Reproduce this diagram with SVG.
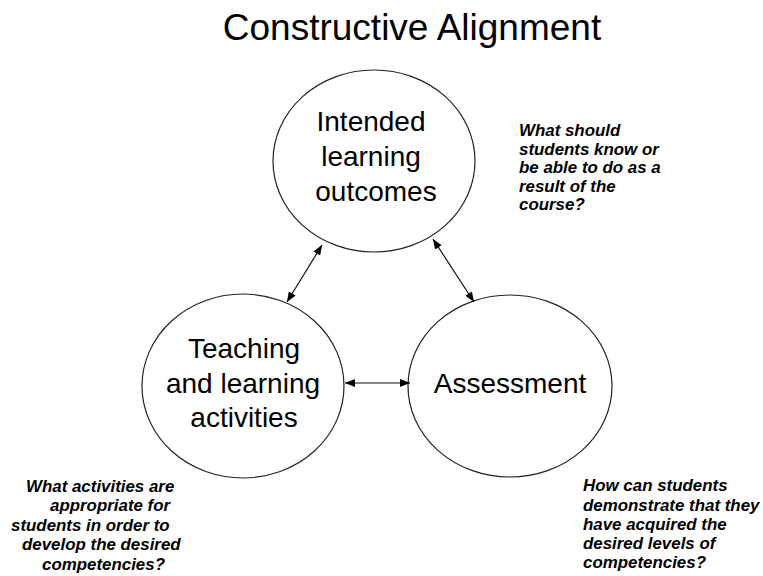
<svg xmlns="http://www.w3.org/2000/svg" width="763" height="576" viewBox="0 0 763 576">
<style>
.title{font-family:"Liberation Sans",Arial,sans-serif;font-size:37px;fill:#000;text-anchor:middle}
.node{fill:#fff;stroke:#222;stroke-width:1.2}
.lbl{font-family:"Liberation Sans",Arial,sans-serif;font-size:28px;fill:#000;text-anchor:middle}
.q{font-family:"Liberation Sans",Arial,sans-serif;font-size:16.9px;font-weight:bold;font-style:italic;fill:#000}
.conn{stroke:#111;stroke-width:1.2;fill:none}
</style>
<defs>
<marker id="ah" viewBox="0 0 10 8" refX="10" refY="4" markerWidth="10" markerHeight="8" markerUnits="userSpaceOnUse" orient="auto-start-reverse">
<path d="M0,0 L10,4 L0,8 z" fill="#000"/>
</marker>
</defs>
<rect width="763" height="576" fill="#fff"/>
<text class="title" x="412" y="40">Constructive Alignment</text>
<g id="ilo">
<ellipse class="node" cx="374" cy="161" rx="101" ry="91"/>
<text class="lbl" x="371" y="131">Intended</text>
<text class="lbl" x="371" y="166">learning</text>
<text class="lbl" x="376" y="201">outcomes</text>
</g>
<g id="tla">
<ellipse class="node" cx="243" cy="386" rx="101" ry="92"/>
<text class="lbl" x="244" y="358">Teaching</text>
<text class="lbl" x="243" y="393">and learning</text>
<text class="lbl" x="244" y="427">activities</text>
</g>
<g id="assessment">
<ellipse class="node" cx="510" cy="386" rx="102" ry="91"/>
<text class="lbl" x="510" y="393">Assessment</text>
</g>
<g id="connectors">
<line class="conn" x1="322" y1="245" x2="287" y2="302" marker-start="url(#ah)" marker-end="url(#ah)"/>
<line class="conn" x1="433" y1="239" x2="474" y2="302" marker-start="url(#ah)" marker-end="url(#ah)"/>
<line class="conn" x1="345" y1="383" x2="410" y2="383" stroke-width="1.6" marker-start="url(#ah)" marker-end="url(#ah)"/>
</g>
<g id="q-ilo">
<text class="q" x="519" y="136">What should</text>
<text class="q" x="519" y="154.5">students know or</text>
<text class="q" x="519" y="173">be able to do as a</text>
<text class="q" x="519" y="191.5">result of the</text>
<text class="q" x="519" y="210">course?</text>
</g>
<g id="q-tla">
<text class="q" x="26" y="492">What activities are</text>
<text class="q" x="50" y="511">appropriate for</text>
<text class="q" x="11" y="530.5">students in order to</text>
<text class="q" x="22" y="550">develop the desired</text>
<text class="q" x="42" y="569.5">competencies?</text>
</g>
<g id="q-assessment">
<text class="q" x="583" y="491">How can students</text>
<text class="q" x="583" y="510.5">demonstrate that they</text>
<text class="q" x="583" y="530">have acquired the</text>
<text class="q" x="583" y="549">desired levels of</text>
<text class="q" x="583" y="568">competencies?</text>
</g>
</svg>
